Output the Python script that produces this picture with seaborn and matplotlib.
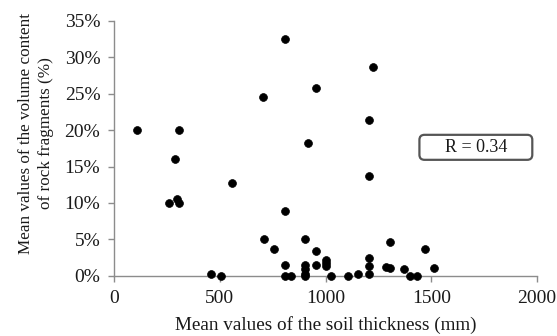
import matplotlib
matplotlib.use("Agg")
import matplotlib.pyplot as plt
import seaborn as sns
import pandas as pd
from matplotlib.ticker import FuncFormatter
from matplotlib.patches import FancyBboxPatch

sns.set_theme(style="white")
plt.rcParams['font.family'] = ['Liberation Serif', 'DejaVu Serif']

thickness = [110, 287, 257, 295, 307, 307, 556, 456, 506,
             703, 708, 757, 807, 807, 807, 807, 838,
             919, 903, 903, 903, 903, 903,
             954, 954, 954, 1004, 1004, 1000, 1028, 1107, 1155,
             1225, 1204, 1204, 1204, 1204, 1204,
             1288, 1307, 1304, 1371, 1401, 1433, 1472, 1513]
fragments = [20.0, 16.0, 10.0, 10.5, 10.0, 20.0, 12.75, 0.3, 0.0,
             24.5, 5.0, 3.75, 32.5, 8.9, 1.55, 0.0, 0.0,
             18.3, 5.0, 1.55, 0.9, 0.3, 0.0,
             25.8, 3.35, 1.55, 2.2, 1.3, 1.7, 0.0, 0.0, 0.25,
             28.7, 21.4, 13.7, 2.5, 1.35, 0.3,
             1.15, 1.05, 4.6, 0.9, 0.0, 0.0, 3.65, 1.05]
r_label = "R = 0.34"

df = pd.DataFrame({"thickness": thickness, "fragments": fragments})

fig = plt.figure(figsize=(5.57, 3.36), dpi=100)
ax = fig.add_axes([0.205, 0.179, 0.759, 0.759])
sns.scatterplot(data=df, x="thickness", y="fragments", ax=ax, color="black",
                edgecolor="black", s=32, linewidth=0.5, zorder=3, clip_on=False)

ax.set_xlim(0, 2000)
ax.set_ylim(0, 35)
ax.set_xticks([0, 500, 1000, 1500, 2000])
ax.set_yticks([0, 5, 10, 15, 20, 25, 30, 35])
ax.yaxis.set_major_formatter(FuncFormatter(lambda v, p: f"{int(v)}%"))

for s in ["top", "right"]:
    ax.spines[s].set_visible(False)
for s in ["left", "bottom"]:
    ax.spines[s].set_color("#8c8c8c")
    ax.spines[s].set_linewidth(1.0)
ax.tick_params(axis="both", direction="out", length=4, width=1.0,
               color="#8c8c8c", labelsize=14, labelcolor="#1a1a1a",
               bottom=True, left=True)
ax.tick_params(axis="y", pad=6)
ax.tick_params(axis="x", pad=6.5)

ax.set_xlabel("Mean values of the soil thickness (mm)", fontsize=13.8, color="#1a1a1a", labelpad=6)
ax.set_ylabel("Mean values of the volume content\nof rock fragments (%)", fontsize=12.3,
              color="#1a1a1a", linespacing=1.3, va="center")
ax.yaxis.set_label_coords(-0.185, 0.56)

box = FancyBboxPatch((0.722, 0.455), 0.267, 0.098, transform=ax.transAxes,
                     boxstyle="round,pad=0,rounding_size=0.012", mutation_aspect=1.66,
                     fc="white", ec="#555555", lw=1.6, zorder=4, clip_on=False)
ax.add_patch(box)
ax.text(0.722 + 0.267 / 2, 0.455 + 0.098 / 2, r_label, transform=ax.transAxes,
        ha="center", va="center", fontsize=13, color="#1a1a1a", zorder=5)

fig.savefig("out.png", dpi=100)
